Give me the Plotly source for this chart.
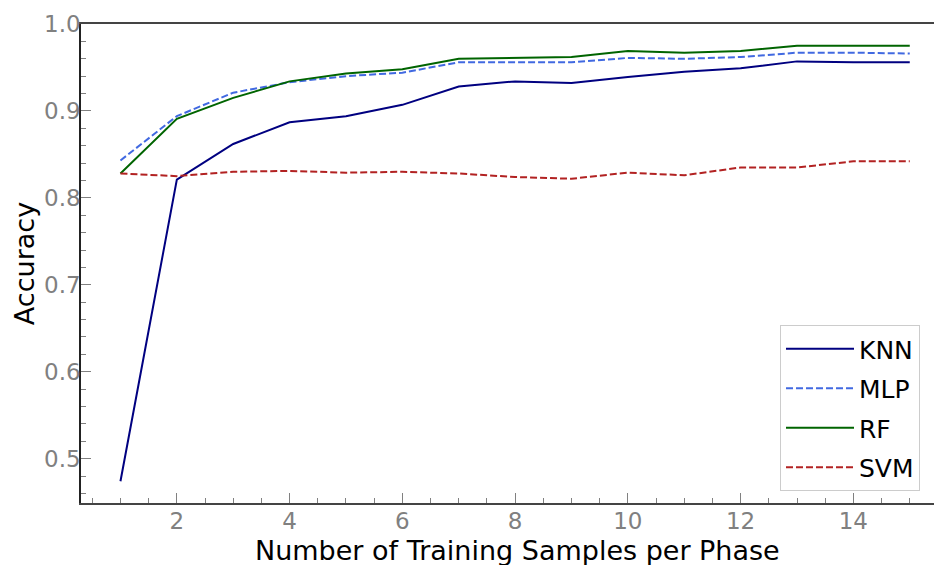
import plotly.graph_objects as go

# Training samples per phase
samples = list(range(1, 16))

# Accuracy per classifier
knn = [0.474, 0.821, 0.862, 0.887, 0.894, 0.907, 0.928, 0.934, 0.932, 0.939,
       0.945, 0.949, 0.957, 0.956, 0.956]
mlp = [0.843, 0.894, 0.921, 0.933, 0.940, 0.944, 0.956, 0.956, 0.956, 0.961,
       0.960, 0.962, 0.967, 0.967, 0.966]
rf = [0.828, 0.891, 0.915, 0.934, 0.943, 0.948, 0.960, 0.961, 0.962, 0.969,
      0.967, 0.969, 0.975, 0.975, 0.975]
svm = [0.828, 0.825, 0.830, 0.831, 0.829, 0.830, 0.828, 0.824, 0.822, 0.829,
       0.826, 0.835, 0.835, 0.842, 0.842]

series = [
    ("KNN", knn, "#000080", "solid"),
    ("MLP", mlp, "#4169E1", "7px,3px"),
    ("RF", rf, "#006400", "solid"),
    ("SVM", svm, "#B22222", "7px,3px"),
]

fig = go.Figure()
for name, vals, color, dash in series:
    fig.add_trace(go.Scatter(
        x=samples, y=vals, name=name, mode="lines",
        legendgroup=name,
        line=dict(color=color, width=2, dash=dash),
    ))

font_family = "DejaVu Sans"
tick_font = dict(family=font_family, size=23, color="#808080")
title_font = dict(family=font_family, size=27, color="#000000")

# Plot area spans 81..934 px horizontally; the x axis continues past the
# right edge, so its title is centred on the full axis span (81..953 px).
plot_left, plot_w, plot_bottom, plot_h = 81, 853, 503, 479

fig.update_layout(
    width=934, height=565,
    margin=dict(l=81, r=0, t=24, b=62),
    paper_bgcolor="white", plot_bgcolor="white",
    font=dict(family=font_family),
    showlegend=True,
    legend=dict(
        x=(780 - plot_left) / plot_w, y=(plot_bottom - 325) / plot_h,
        xanchor="left", yanchor="top",
        bgcolor="white", bordercolor="#cccccc", borderwidth=1,
        font=dict(family=font_family, size=25, color="#000000"),
        itemwidth=68, tracegroupgap=4, traceorder="grouped",
    ),
    xaxis=dict(
        range=[0.3, 15.43],
        tickmode="linear", tick0=0, dtick=2,
        ticks="inside", ticklen=10, tickwidth=1.2, tickcolor="#808080",
        minor=dict(ticks="inside", ticklen=5, tickwidth=1, tickcolor="#808080",
                   dtick=0.5, tick0=0, showgrid=False),
        showline=True, linecolor="#444444", linewidth=1.5, mirror=True,
        showgrid=False, zeroline=False,
        tickfont=tick_font, ticklabelstandoff=-3,
    ),
    yaxis=dict(
        range=[0.449, 1.0],
        tickmode="linear", tick0=0, dtick=0.1, tickformat=".1f",
        ticks="inside", ticklen=10, tickwidth=1.2, tickcolor="#808080",
        minor=dict(ticks="inside", ticklen=5, tickwidth=1, tickcolor="#808080",
                   dtick=0.02, tick0=0, showgrid=False),
        showline=True, linecolor="#222222", linewidth=1.5,
        showgrid=False, zeroline=False,
        tickfont=tick_font, ticklabelstandoff=-6,
        title=dict(text="Accuracy", font=title_font, standoff=2),
    ),
    annotations=[dict(
        text="Number of Training Samples per Phase",
        xref="paper", yref="paper",
        x=(517 - plot_left) / plot_w, y=(plot_bottom - 550) / plot_h,
        xanchor="center", yanchor="middle", showarrow=False,
        font=title_font,
    )],
)

fig.write_html("out.html")
